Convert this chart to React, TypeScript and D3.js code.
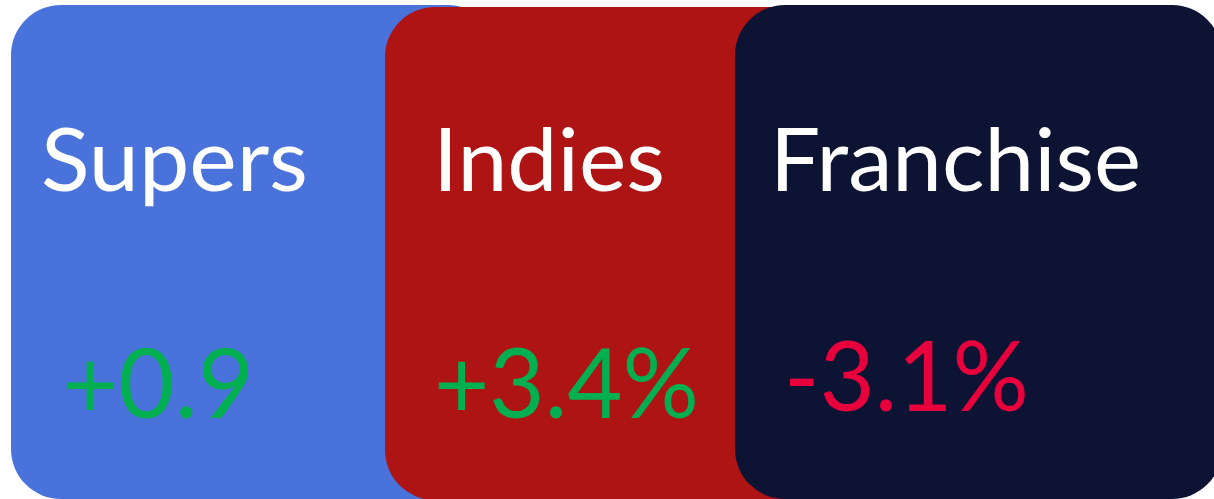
import React from "react";
import * as d3 from "d3";

const categories = ["Supers", "Indies", "Franchise"];
const changeLabels = ["+0.9", "+3.4%", "-3.1%"];
const changeSigns = [1, 1, -1];
const boxColors = ["#4a72db", "#ae1414", "#0d1333"];

// layout (not data)
const W = 1214;
const H = 499;
const boxLeft = [11, 385, 735];
const boxTop = [5, 7, 5];
const boxBottom = [499, 500, 499];
const boxWidth = 487;
const radius = 50;
const titleX = [41, 433, 770];
const titleW = [267, 232, 371];
const valueX = [62, 434, 784];
const valueW = [192, 265, 245];
const valueY = [418, 418, 411];

export default function App() {
  const color = d3.scaleOrdinal<string, string>().domain(categories).range(boxColors);
  const signColor = (s: number) => (s >= 0 ? "#00b050" : "#e8003d");
  return (
    <svg width={W} height={H} style={{ position: "absolute", left: 0, top: 0 }}>
      <rect x={0} y={0} width={W} height={H} fill="#ffffff" />
      {categories.map((c, i) => (
        <g key={c}>
          <rect
            x={boxLeft[i]}
            y={boxTop[i]}
            width={boxWidth}
            height={boxBottom[i] - boxTop[i]}
            rx={radius}
            ry={radius}
            fill={color(c)}
          />
          <text
            x={titleX[i]}
            y={191}
            fill="#ffffff"
            fontFamily="Lato, 'Open Sans', sans-serif"
            fontSize={88}
            textLength={titleW[i]}
            lengthAdjust="spacingAndGlyphs"
          >
            {c}
          </text>
          <text
            x={valueX[i]}
            y={valueY[i]}
            fill={signColor(changeSigns[i])}
            fontFamily="Lato, 'Open Sans', sans-serif"
            fontSize={96}
            textLength={valueW[i]}
            lengthAdjust="spacingAndGlyphs"
          >
            {changeLabels[i]}
          </text>
        </g>
      ))}
    </svg>
  );
}
